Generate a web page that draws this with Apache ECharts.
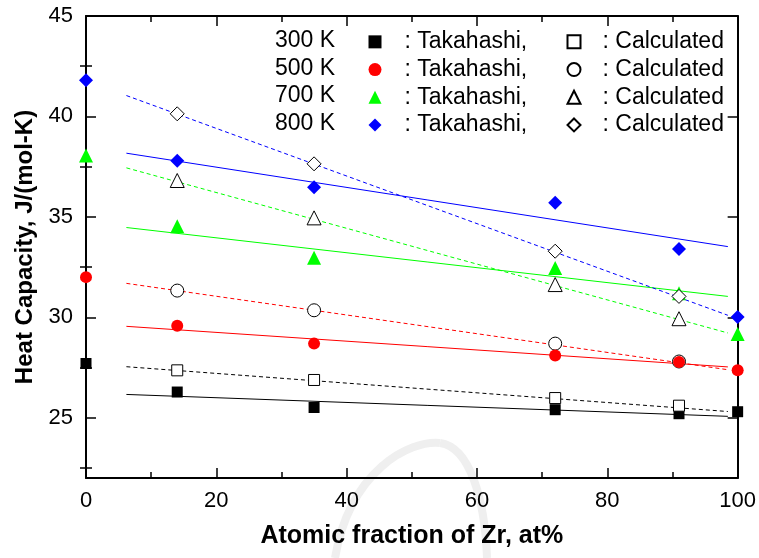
<!DOCTYPE html>
<html>
<head>
<meta charset="utf-8">
<script src="https://cdn.jsdelivr.net/npm/echarts@6/dist/echarts.min.js"></script>
<style>
  html, body { margin: 0; padding: 0; background: #ffffff; }
  #chart { width: 759px; height: 558px; }
</style>
</head>
<body>
<div id="chart"></div>
<script>
// Temperatures, colours and marker shapes, one entry per temperature
const temps = ['300 K', '500 K', '700 K', '800 K'];
const colors = ['#000000', '#ff0000', '#00ff00', '#0000ff'];
const symbols = ['rect', 'circle', 'triangle', 'diamond'];

// Measured heat capacity (Takahashi), J/(mol-K)
const takahashiX = [0, 14, 35, 72, 91, 100];
const takahashi300 = [27.70, 26.28, 25.51, 25.40, 25.20, 25.30];
const takahashi500 = [32.00, 29.58, 28.69, 28.10, 27.78, 27.36];
const takahashi700 = [38.05, 34.53, 32.96, 32.46, 31.20, 29.17];
const takahashi800 = [41.80, 37.80, 36.48, 35.70, 33.40, 30.02];

// Calculated heat capacity, J/(mol-K)
const calcX = [14, 35, 72, 91];
const calc300 = [27.36, 26.88, 25.98, 25.60];
const calc500 = [31.33, 30.35, 28.69, 27.80];
const calc700 = [36.81, 34.95, 31.63, 29.93];
const calc800 = [40.13, 37.64, 33.29, 31.04];

// Linear trend lines: values at both ends of fitX
const fitX = [6.2, 98.5];
const fitTaka300 = [26.16, 25.07];
const fitTaka500 = [29.55, 27.53];
const fitTaka700 = [34.47, 31.04];
const fitTaka800 = [38.17, 33.52];
const fitCalc300 = [27.54, 25.31];
const fitCalc500 = [31.69, 27.39];
const fitCalc700 = [37.44, 29.22];
const fitCalc800 = [41.04, 30.10];

// Axis ticks
const xMin = 0, xMax = 100, xStep = 20;
const yMin = 22, yMax = 45;
const yMajor = [25, 30, 35, 40, 45];
const yMinor = [22.5, 27.5, 32.5, 37.5, 42.5];

const takahashi = [takahashi300, takahashi500, takahashi700, takahashi800];
const calc = [calc300, calc500, calc700, calc800];
const fitTaka = [fitTaka300, fitTaka500, fitTaka700, fitTaka800];
const fitCalc = [fitCalc300, fitCalc500, fitCalc700, fitCalc800];

const FONT = '"Liberation Sans", Arial, Helvetica, sans-serif';
const zip = (xs, ys) => xs.map((x, i) => [x, ys[i]]);

const takaSizes = [11, 12, 14, 14];
const calcSizes = [11, 13, 14, 14];
// stacking order of the marker series (higher draws on top)
const takaZ = [3, 6, 7, 9];
const calcZ = [4, 5, 8, 10];

const series = [];
// trend lines first so the markers sit above them
temps.forEach((t, i) => {
  series.push({
    name: t + ' fit (Takahashi)', type: 'line', silent: true, showSymbol: false,
    data: zip(fitX, fitTaka[i]),
    lineStyle: { color: colors[i], width: 1 }, z: 2
  });
  series.push({
    name: t + ' fit (Calculated)', type: 'line', silent: true, showSymbol: false,
    data: zip(fitX, fitCalc[i]),
    lineStyle: { color: colors[i], width: 1, type: [4, 3] }, z: 2
  });
});
temps.forEach((t, i) => {
  series.push({
    name: t + ' Takahashi', type: 'scatter',
    data: zip(takahashiX, takahashi[i]),
    symbol: symbols[i], symbolSize: takaSizes[i],
    itemStyle: { color: colors[i], opacity: 1 }, z: takaZ[i]
  });
});
temps.forEach((t, i) => {
  series.push({
    name: t + ' Calculated', type: 'scatter',
    data: zip(calcX, calc[i]),
    symbol: symbols[i], symbolSize: calcSizes[i],
    itemStyle: { color: '#ffffff', borderColor: '#000000', borderWidth: 1, opacity: 1 }, z: calcZ[i]
  });
});

const axisLine = { show: true, onZero: false, lineStyle: { color: '#000', width: 2 } };
const tickStyle = { color: '#000', width: 1.5 };

const legendCommon = {
  orient: 'vertical', top: 28, padding: 0, itemGap: 0,
  itemWidth: 13, itemHeight: 13, selectedMode: false
};
const legendText = { fontFamily: FONT, fontSize: 23, color: '#000', lineHeight: 27.7 };

const chart = echarts.init(document.getElementById('chart'), null, { renderer: 'canvas' });
chart.setOption({
  animation: false,
  backgroundColor: '#ffffff',
  grid: { left: 86, right: 20, top: 16, bottom: 80, containLabel: false },
  xAxis: [
    {
      type: 'value', position: 'bottom', min: xMin, max: xMax, interval: xStep,
      name: 'Atomic fraction of Zr, at%', nameLocation: 'middle', nameGap: 46,
      nameTextStyle: { fontFamily: FONT, fontSize: 25, fontWeight: 'bold', color: '#000' },
      axisLine: axisLine,
      axisTick: { show: true, inside: true, length: 10, lineStyle: tickStyle },
      minorTick: { show: true, splitNumber: 2, length: 6, lineStyle: tickStyle },
      axisLabel: { fontFamily: FONT, fontSize: 22, color: '#000', margin: 12 },
      splitLine: { show: false }, minorSplitLine: { show: false }
    },
    {
      type: 'value', position: 'top', min: xMin, max: xMax, interval: xStep,
      axisLine: axisLine,
      axisTick: { show: true, inside: true, length: 10, lineStyle: tickStyle },
      minorTick: { show: true, splitNumber: 2, length: 6, lineStyle: tickStyle },
      axisLabel: { show: false }, splitLine: { show: false }
    }
  ],
  yAxis: [
    {
      type: 'value', position: 'left', min: yMin, max: yMax,
      name: 'Heat Capacity, J/(mol-K)', nameLocation: 'middle', nameGap: 49,
      nameTextStyle: { fontFamily: FONT, fontSize: 24, fontWeight: 'bold', color: '#000' },
      axisLine: axisLine,
      axisTick: { show: true, inside: true, length: 10, customValues: yMajor, lineStyle: tickStyle },
      axisLabel: { fontFamily: FONT, fontSize: 22, color: '#000', margin: 13, customValues: yMajor },
      splitLine: { show: false }
    },
    {
      type: 'value', position: 'left', min: yMin, max: yMax,
      axisLine: { show: false },
      axisTick: { show: true, inside: true, length: 6, customValues: yMinor, lineStyle: tickStyle },
      axisLabel: { show: false }, splitLine: { show: false }
    },
    {
      type: 'value', position: 'right', min: yMin, max: yMax,
      axisLine: axisLine,
      axisTick: { show: true, inside: true, length: 10, customValues: yMajor, lineStyle: tickStyle },
      axisLabel: { show: false }, splitLine: { show: false }
    },
    {
      type: 'value', position: 'right', min: yMin, max: yMax,
      axisLine: { show: false },
      axisTick: { show: true, inside: true, length: 6, customValues: yMinor, lineStyle: tickStyle },
      axisLabel: { show: false }, splitLine: { show: false }
    }
  ],
  legend: [
    Object.assign({}, legendCommon, {
      data: temps.map(t => t + ' Takahashi'),
      left: 368.5,
      formatter: () => ': Takahashi,',
      textStyle: Object.assign({}, legendText, { padding: [0, 0, 0, 18] })
    }),
    Object.assign({}, legendCommon, {
      data: temps.map(t => t + ' Calculated'),
      left: 566.5,
      formatter: () => ': Calculated',
      textStyle: Object.assign({}, legendText, { padding: [0, 0, 0, 17] })
    })
  ],
  graphic: [
    // faint background arc
    {
      type: 'bezierCurve', z: -10, silent: true,
      shape: { x1: 335, y1: 558, cpx1: 350, cpy1: 470, cpx2: 410, cpy2: 440, x2: 440, y2: 443 },
      style: { fill: null, stroke: '#efefef', lineWidth: 8 }
    },
    {
      type: 'bezierCurve', z: -10, silent: true,
      shape: { x1: 440, y1: 443, cpx1: 470, cpy1: 447, cpx2: 485, cpy2: 500, x2: 487, y2: 558 },
      style: { fill: null, stroke: '#efefef', lineWidth: 8 }
    }
  ].concat(temps.map((t, i) => ({
    type: 'text', left: 275, top: 28 + i * 27.7 + 1,
    style: { text: t, font: '23px ' + FONT, fill: '#000' }
  }))),
  series: series
});
</script>
</body>
</html>
